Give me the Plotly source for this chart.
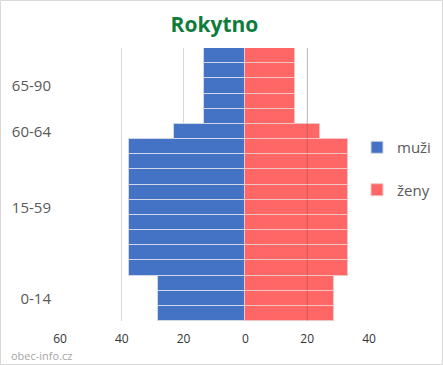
import plotly.graph_objects as go

# Age-group labels shown on the y axis and the number of 5-year rows in each group
age_groups = ["0-14", "15-59", "60-64", "65-90"]
rows_per_group = [3, 9, 1, 5]

# Per-row values (bottom row first)
men_rows = [28.3, 28.3, 28.3,
            37.8, 37.8, 37.8, 37.8, 37.8, 37.8, 37.8, 37.8, 37.8,
            23.0,
            13.4, 13.4, 13.4, 13.4, 13.4]
women_rows = [28.7, 28.7, 28.7,
              33.2, 33.2, 33.2, 33.2, 33.2, 33.2, 33.2, 33.2, 33.2,
              24.0,
              16.2, 16.2, 16.2, 16.2, 16.2]

x_tickvals = [-60, -40, -20, 0, 20, 40]
x_ticktext = ["60", "40", "20", "0", "20", "40"]

series_names = ["muži", "ženy"]
title_text = "Rokytno"
watermark = "obec-info.cz"

rows = list(range(len(men_rows)))

# label positions = middle row of each group
label_pos = []
start = 0
for n in rows_per_group:
    label_pos.append(start + (n - 1) / 2)
    start += n

FONT = "Open Sans"
W, H = 443, 365
L, R, T, B = 60, 74, 48, 44
pw, ph = W - L - R, H - T - B

fig = go.Figure()
fig.add_trace(go.Bar(
    y=rows, x=[-v for v in men_rows], orientation="h", name=series_names[0],
    marker=dict(color="#4472C4", line=dict(color="#d0d7e6", width=1)),
    legendgroup="m", hoverinfo="skip",
))
fig.add_trace(go.Bar(
    y=rows, x=women_rows, orientation="h", name=series_names[1],
    marker=dict(color="#FF6666", line=dict(color="#f2c4c4", width=1)),
    legendgroup="w", hoverinfo="skip",
))

# border around the whole picture
fig.add_shape(type="rect", xref="paper", yref="paper",
              x0=(0.5 - L) / pw, x1=(W - 0.5 - L) / pw,
              y0=(T + ph - (H - 0.5)) / ph, y1=(T + ph - 0.5) / ph,
              line=dict(color="#d9d9d9", width=1), layer="below")
# secondary-axis gridline drawn over the women bars
fig.add_shape(type="line", xref="x", yref="paper", x0=20, x1=20, y0=0, y1=1,
              line=dict(color="rgba(0,0,0,0.16)", width=1), layer="above")

fig.add_annotation(text=watermark, xref="paper", yref="paper",
                   x=(9 - L) / pw, y=(T + ph - 355) / ph,
                   xanchor="left", yanchor="middle", showarrow=False,
                   font=dict(family=FONT, size=11, color="#a6a6a6"))

fig.update_layout(
    width=W, height=H,
    margin=dict(l=L, r=R, t=T, b=B, autoexpand=False),
    paper_bgcolor="white", plot_bgcolor="white",
    barmode="relative", bargap=0,
    title=dict(text="<b>%s</b>" % title_text, x=0.5, xref="paper", xanchor="center",
               y=(H - 25) / H, yanchor="middle",
               font=dict(family=FONT, size=21, color="#0E7C3A")),
    showlegend=True,
    legend=dict(x=(357 - L) / pw, xanchor="left", y=(T + ph - 131) / ph, yanchor="top",
                traceorder="grouped", tracegroupgap=20,
                font=dict(family=FONT, size=15, color="#595959"),
                itemwidth=30, bgcolor="rgba(0,0,0,0)"),
    xaxis=dict(range=[-60, 40], tickvals=x_tickvals, ticktext=x_ticktext,
               showgrid=True, gridcolor="#d9d9d9", gridwidth=1,
               zeroline=False, showline=False, ticks="", automargin=False,
               ticklabelstandoff=9,
               tickfont=dict(family=FONT, size=12, color="#333333")),
    yaxis=dict(range=[-0.5, len(rows) - 0.5], tickvals=label_pos, ticktext=age_groups,
               showgrid=False, zeroline=False, showline=False, ticks="",
               ticklabelstandoff=8, automargin=False,
               tickfont=dict(family=FONT, size=15, color="#595959")),
    font=dict(family=FONT),
)

fig.write_html("out.html",
               config={"displayModeBar": False},
               post_script="document.body.style.margin='0';document.body.style.padding='0';")
